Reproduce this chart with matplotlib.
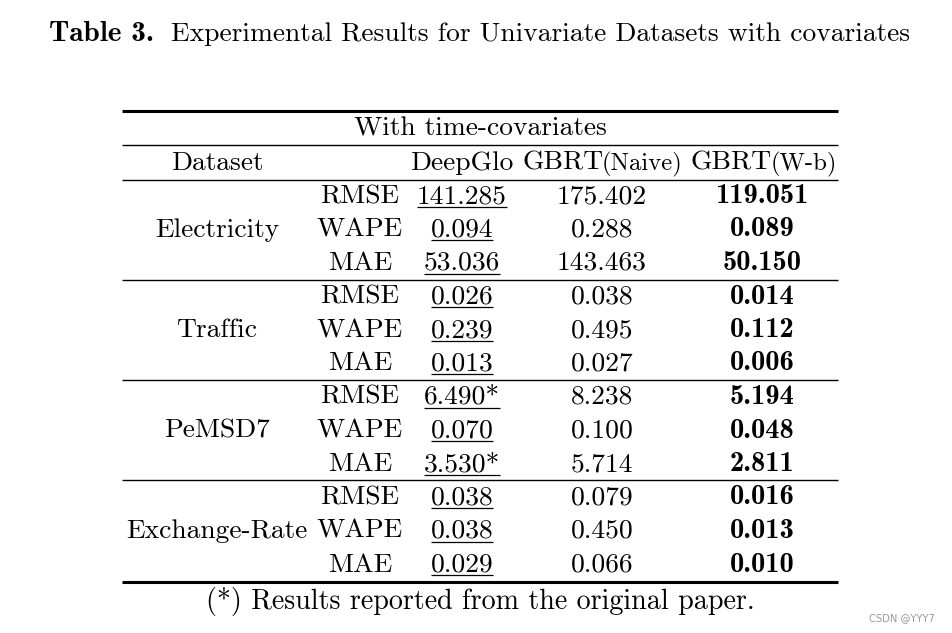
import matplotlib
matplotlib.use('Agg')
import matplotlib.pyplot as plt

# table contents
datasets = ['Electricity', 'Traffic', 'PeMSD7', 'Exchange-Rate']
metrics = ['RMSE', 'WAPE', 'MAE']
deepglo = [141.285, 0.094, 53.036, 0.026, 0.239, 0.013, 6.490, 0.070, 3.530, 0.038, 0.038, 0.029]
deepglo_reported = [False, False, False, False, False, False, True, False, True, False, False, False]
gbrt_naive = [175.402, 0.288, 143.463, 0.038, 0.495, 0.027, 8.238, 0.100, 5.714, 0.079, 0.450, 0.066]
gbrt_wb = [119.051, 0.089, 50.150, 0.014, 0.112, 0.006, 5.194, 0.048, 2.811, 0.016, 0.013, 0.010]

title_bold = 'Table 3.'
title_rest = 'Experimental Results for Univariate Datasets with covariates'
group_title = 'With time-covariates'
footnote = '(*) Results reported from the original paper.'

RM = 'cmr10'
BF = 'cmb10'
fs = 19.8
fs_bf = 20.5
fs_small = 17.8

fig = plt.figure(figsize=(9.52, 6.33), dpi=100)
ax = fig.add_axes([0, 0, 1, 1])
ax.set_xlim(0, 952)
ax.set_ylim(633, 0)
ax.axis('off')

# title
ax.text(49, 41, title_bold, family=BF, fontsize=21, ha='left', va='baseline')
ax.text(171, 41, title_rest, family=RM, fontsize=19.8, ha='left', va='baseline')

# rules
x0, x1 = 122, 838
ax.plot([x0, x1], [110.5, 110.5], color='black', lw=2.2, solid_capstyle='butt')
ax.plot([x0, x1], [145, 145], color='black', lw=1.0, solid_capstyle='butt')
ax.plot([x0, x1], [180, 180], color='black', lw=1.0, solid_capstyle='butt')
for yy in [280, 380, 480]:
    ax.plot([x0, x1], [yy, yy], color='black', lw=1.0, solid_capstyle='butt')
ax.plot([x0, x1], [582, 582], color='black', lw=2.2, solid_capstyle='butt')

# header
ax.text(480, 135, group_title, family=RM, fontsize=fs, ha='center', va='baseline')
ax.text(217, 170, 'Dataset', family=RM, fontsize=fs, ha='center', va='baseline')
ax.text(410, 170, 'DeepGlo', family=RM, fontsize=fs, ha='left', va='baseline')
ax.text(523, 170, 'GBRT', family=RM, fontsize=fs, ha='left', va='baseline')
ax.text(602, 170, '(Naive)', family=RM, fontsize=fs_small, ha='left', va='baseline')
ax.text(691, 170, 'GBRT', family=RM, fontsize=fs, ha='left', va='baseline')
ax.text(771, 170, '(W-b)', family=RM, fontsize=fs_small, ha='left', va='baseline')

# body
under = []
for i in range(len(deepglo)):
    yb = 203 + i * 33.5
    g, m = divmod(i, 3)
    if m == 1:
        ax.text(217, yb, datasets[g], family=RM, fontsize=fs, ha='center', va='baseline')
    ax.text(360, yb, metrics[m], family=RM, fontsize=fs, ha='center', va='baseline')
    s = '%.3f' % deepglo[i] + ('*' if deepglo_reported[i] else '')
    t = ax.text(462, yb, s, family=RM, fontsize=fs, ha='center', va='baseline')
    under.append((t, yb))
    ax.text(602, yb, '%.3f' % gbrt_naive[i], family=RM, fontsize=fs, ha='center', va='baseline')
    ax.text(762, yb, '%.3f' % gbrt_wb[i], family=BF, fontsize=fs_bf, ha='center', va='baseline')

# underline the DeepGlo values
fig.canvas.draw()
r = fig.canvas.get_renderer()
inv = ax.transData.inverted()
for t, yb in under:
    bb = t.get_window_extent(renderer=r)
    (xa, _), (xb, _) = inv.transform([(bb.x0, bb.y0), (bb.x1, bb.y1)])
    ax.plot([xa, xb], [yb + 3.5, yb + 3.5], color='black', lw=0.9, solid_capstyle='butt')

ax.text(480, 609, footnote, family=RM, fontsize=20.2, ha='center', va='baseline')
ax.text(935, 621, 'CSDN @YYY7', family='DejaVu Sans', fontsize=7.2, color='#999999',
        ha='right', va='baseline')

fig.savefig('out.png', dpi=100)
